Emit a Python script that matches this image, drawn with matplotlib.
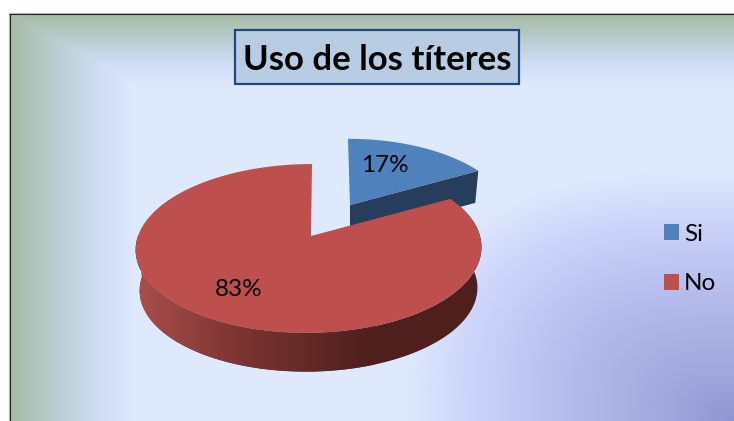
import numpy as np
import matplotlib
matplotlib.use("Agg")
import matplotlib.pyplot as plt
from matplotlib.colors import to_rgb
from matplotlib.patches import Patch, Polygon, Rectangle

# data
categories = ["Si", "No"]
percents = [17, 83]

# colours
BLUE = "#4F81BD"
BLUE_DARK = "#263D5C"
RED = "#BD4F4C"
BG = "#DFE9FC"
W, H = 734, 421

plt.rcParams["font.family"] = ["Lato", "DejaVu Sans"]

fig = plt.figure(figsize=(W / 100, H / 100), dpi=100, facecolor="white")
ax = fig.add_axes([0, 0, 1, 1])
ax.axis("off")


def blend(t, stops):
    # stops are (pos, hex); returns rgb array for t
    pos = [s[0] for s in stops]
    rgb = np.array([to_rgb(s[1]) for s in stops])
    return np.dstack([np.interp(t, pos, rgb[:, i]) for i in range(3)])


# plot area background: green frame top/left, purple corner bottom right
x0, y0 = 10, 14
xx, yy = np.meshgrid(np.arange(x0, W) + 0.5, np.arange(y0, H) + 0.5)
green_t = np.maximum(1 - (xx - x0) / 125, 1 - (yy - y0) / 70).clip(0, 1)
dx, dy = (W - xx) / 330, (H - yy) / 250
purple_t = (1 - (dx ** 3 + dy ** 3) ** (1 / 3)).clip(0, 1)
green = blend(green_t, [(0, BG), (0.12, "#D8E3FB"), (0.3, "#CFDCF3"),
                        (0.6, "#BCCFD4"), (1, "#A5BBA3")])
purple = blend(purple_t, [(0, BG), (0.2, "#CBD4FA"), (0.5, "#B5BBEB"),
                          (0.8, "#A2A7DC"), (1, "#9095D2")])
ax.imshow(np.minimum(green, purple), extent=(x0, W, H, y0), aspect="auto",
          zorder=0, interpolation="bilinear")
ax.plot([9.5, 9.5, W], [H, 13.5, 13.5], color="#222222", lw=1.5, zorder=1)
ax.plot([8.5, 8.5], [H, 12.5], color="#BBBBBB", lw=0.7, zorder=1)
ax.plot([8.5, W], [12.5, 12.5], color="#BBBBBB", lw=0.7, zorder=1)


def project(t_deg, cx, cy, rx=171.0, ry=82.6, k=0.148, skew=3.0):
    # circle seen in slight perspective, far side is squeezed
    t = np.radians(t_deg)
    s = 1 / (1 + k * np.sin(t))
    return cx + rx * np.cos(t) * s + skew * np.sin(t), cy - ry * np.sin(t) * s


sweep = [p / sum(percents) * 360 for p in percents]
start_blue = 90
end_blue = start_blue - sweep[0]
end_red = end_blue - sweep[1]

# exploded blue slice, drawn first so the red one hides its lower part
bcx, bcy = 350, 205
tb = np.linspace(start_blue, end_blue, 80)
bx, by = project(tb, bcx, bcy, rx=158, ry=76, skew=-2)
tip = (bx[-1], by[-1])
ax.add_patch(Polygon([(bcx, bcy), tip, (tip[0] - 3, tip[1] + 32), (bcx, bcy + 32)],
                     fc=BLUE_DARK, ec="none", zorder=2))
ax.add_patch(Polygon(np.r_[[(bcx, bcy)], np.c_[bx, by]], fc=BLUE, ec="none", zorder=3))

# red slice wall
rcx, rcy = 309, 236
apex = (311, 236)
tw = np.linspace(180, 360 + end_blue, 200)
ux, uy = project(tw, rcx, rcy)
lx, ly = project(tw, rcx, rcy + 41, rx=167, ry=80.6)
outline = np.r_[np.c_[ux, uy], np.c_[lx, ly][::-1]]
ax.add_patch(Polygon(outline, fc="#4D1F1D", ec="none", zorder=3.9))
wall = Polygon(outline, fc="none", ec="none", zorder=4)
ax.add_patch(wall)
grad = blend(np.linspace(0, 1, 400)[None, :],
             [(0, "#A84E4B"), (0.45, "#7A3331"), (1, "#4D1F1D")])
wall_img = ax.imshow(grad, extent=(138, 375, 380, 240), aspect="auto", zorder=4)
wall_img.set_clip_path(wall)

# red slice top
tr = np.linspace(end_blue, end_red, 300)
rx_, ry_ = project(tr, rcx, rcy)
ax.add_patch(Polygon(np.r_[[apex], np.c_[rx_, ry_]], fc=RED, ec="none", zorder=5))

# data labels
ax.text(384.5, 165.5, f"{percents[0]}%", ha="center", va="center", fontsize=17.5, color="black", zorder=6)
ax.text(238.5, 290, f"{percents[1]}%", ha="center", va="center", fontsize=17.5, color="black", zorder=6)

# title box
ax.add_patch(Rectangle((234.5, 29.5), 284, 54, fc="#B8CCE4", ec="#1F497D", lw=1.6, zorder=6))
ax.text(377, 60, "Uso de los títeres", ha="center", va="center", fontsize=25,
        fontweight="bold", color="black", zorder=7)

# legend
handles = [Patch(fc=BLUE, ec="none"), Patch(fc=RED, ec="none")]
ax.legend(handles, categories, loc="center left", bbox_to_anchor=(642 / W, 1 - 259 / H),
          frameon=False, fontsize=17.5, handlelength=0.62, handleheight=0.62,
          handletextpad=0.2, labelspacing=1.17, labelcolor="black")

ax.set_xlim(0, W)
ax.set_ylim(H, 0)
fig.savefig("out.png", dpi=100, facecolor="white")
